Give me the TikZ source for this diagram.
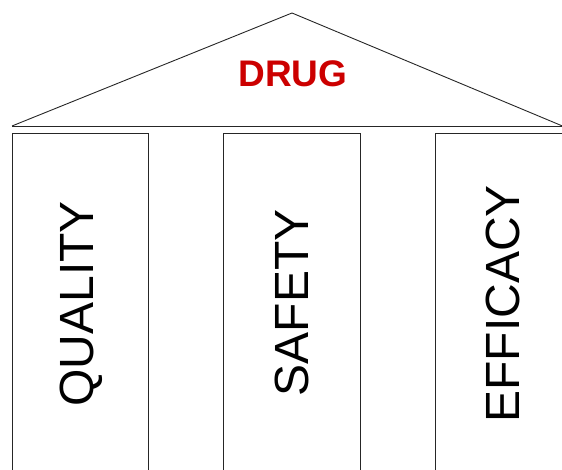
\documentclass[tikz,border=0pt]{standalone}
\usepackage{fontspec}
\setmainfont{Liberation Sans}
\definecolor{drugred}{HTML}{CC0000}
\begin{document}
\begin{tikzpicture}[x=1pt,y=1pt,
  edge/.style={draw=black!85,line width=0.9pt},
  pillartext/.style={rotate=90,font=\fontsize{48}{48}\selectfont,inner sep=0pt}]
\useasboundingbox (0,0) rectangle (562,470);
\begin{scope}
\clip (0,0) rectangle (562,470);
% roof
\coordinate (apex) at (292,457);
\coordinate (roofL) at (12,344);
\coordinate (roofR) at (572,340);
\coordinate (baseR) at (570,344);
\draw[edge] (roofL) -- (apex) -- (roofR);
\draw[edge] (roofL) -- (baseR);
% pillars
\draw[edge] (12,-5) -- (12,337) -- (148,337) -- (148,-5);
\draw[edge] (223,-5) -- (223,337) -- (360,337) -- (360,-5);
\draw[edge] (435,-5) -- (435,337) -- (575,337);
\end{scope}
\node[font=\fontsize{37}{37}\selectfont\bfseries,text=drugred,inner sep=0pt] (drug) at (293,396) {DRUG};
\node[pillartext] (quality) at (81,166) {QUALITY};
\node[pillartext] (safety) at (292,167) {SAFETY};
\node[pillartext] (efficacy) at (503,166) {EFFICACY};
\end{tikzpicture}
\end{document}
